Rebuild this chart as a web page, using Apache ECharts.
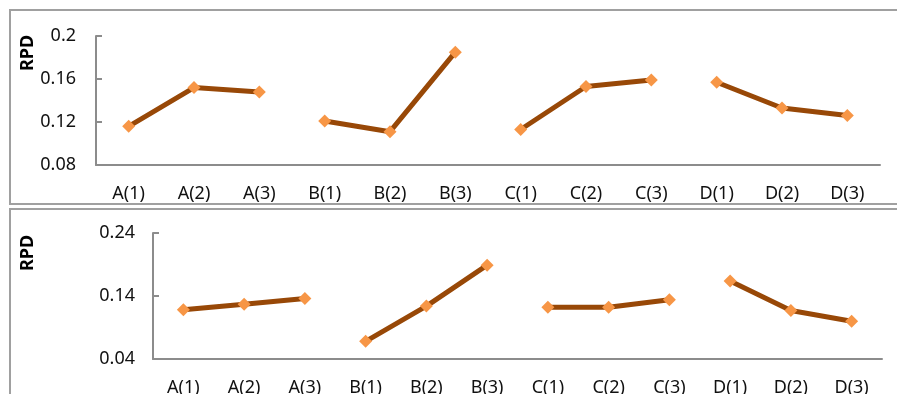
<!DOCTYPE html>
<html>
<head>
<meta charset="utf-8">
<script src="https://cdn.jsdelivr.net/npm/echarts@6/dist/echarts.min.js"></script>
<style>
html,body{margin:0;padding:0;background:#fff;}
#chart{width:897px;height:394px;}
</style>
</head>
<body>
<div id="chart"></div>
<script>
// ---- data ----
var categories = ['A(1)','A(2)','A(3)','B(1)','B(2)','B(3)','C(1)','C(2)','C(3)','D(1)','D(2)','D(3)'];
var groups = ['A','B','C','D'];
var topRPD = [0.116, 0.152, 0.148, 0.121, 0.111, 0.185, 0.113, 0.153, 0.159, 0.157, 0.133, 0.126];
var bottomRPD = [0.118, 0.127, 0.136, 0.068, 0.124, 0.189, 0.122, 0.122, 0.134, 0.164, 0.117, 0.100];
var topTicks = [0.08, 0.12, 0.16, 0.2];
var bottomTicks = [0.04, 0.14, 0.24];
var yName = 'RPD';

// ---- styles ----
var FONT = 'Noto Sans';
var LINE_COLOR = '#984807';
var MARK_COLOR = '#f79646';
var AXIS_COLOR = '#8c8c8c';

function groupSeries(values, axisIdx) {
  return groups.map(function (g) {
    var data = categories.map(function (c, i) {
      return c.charAt(0) === g ? values[i] : null;
    });
    return {
      type: 'line',
      xAxisIndex: axisIdx,
      yAxisIndex: axisIdx,
      data: data,
      connectNulls: false,
      symbol: 'diamond',
      symbolSize: 13,
      itemStyle: { color: MARK_COLOR },
      lineStyle: { color: LINE_COLOR, width: 5 },
      silent: true,
      z: 3
    };
  });
}

function xAxis(gridIndex, margin) {
  return {
    type: 'category',
    gridIndex: gridIndex,
    data: categories,
    boundaryGap: true,
    axisLine: { lineStyle: { color: AXIS_COLOR, width: 2 } },
    axisTick: { inside: true, length: 6, alignWithLabel: false, lineStyle: { color: AXIS_COLOR, width: 2 } },
    axisLabel: { color: '#111', fontSize: 18, fontFamily: FONT, margin: margin, interval: 0 },
    splitLine: { show: false }
  };
}

function yAxis(gridIndex, ticks, margin) {
  return {
    type: 'value',
    gridIndex: gridIndex,
    min: ticks[0],
    max: ticks[ticks.length - 1],
    axisLine: { show: true, lineStyle: { color: AXIS_COLOR, width: 2 } },
    axisTick: { show: true, inside: true, length: 6, customValues: ticks, lineStyle: { color: AXIS_COLOR, width: 2 } },
    axisLabel: { color: '#111', fontSize: 18, fontFamily: FONT, margin: margin, customValues: ticks,
      formatter: function (v) { return String(+v.toFixed(4)); } },
    splitLine: { show: false }
  };
}

var chart = echarts.init(document.getElementById('chart'), null, { renderer: 'canvas' });
chart.setOption({
  animation: false,
  backgroundColor: '#fff',
  grid: [
    { left: 96, right: 17, top: 36, bottom: 229, outerBoundsMode: 'none', containLabel: false },
    { left: 153, right: 15, top: 233, bottom: 35, outerBoundsMode: 'none', containLabel: false }
  ],
  xAxis: [xAxis(0, 20), xAxis(1, 20)],
  yAxis: [yAxis(0, topTicks, 20), yAxis(1, bottomTicks, 18)],
  series: groupSeries(topRPD, 0).concat(groupSeries(bottomRPD, 1)),
  graphic: [
    { type: 'rect', shape: { x: 10, y: 10, width: 900, height: 194 },
      style: { fill: 'none', stroke: '#a0a0a0', lineWidth: 2 }, silent: true },
    { type: 'rect', shape: { x: 10, y: 209, width: 900, height: 200 },
      style: { fill: 'none', stroke: '#a0a0a0', lineWidth: 2 }, silent: true },
    { type: 'text', x: 28, y: 53, rotation: Math.PI / 2,
      style: { text: yName, fontSize: 18, fontWeight: 'bold', fontFamily: FONT, fill: '#000',
        align: 'center', verticalAlign: 'middle' } },
    { type: 'text', x: 28, y: 253, rotation: Math.PI / 2,
      style: { text: yName, fontSize: 18, fontWeight: 'bold', fontFamily: FONT, fill: '#000',
        align: 'center', verticalAlign: 'middle' } }
  ]
});
</script>
</body>
</html>
